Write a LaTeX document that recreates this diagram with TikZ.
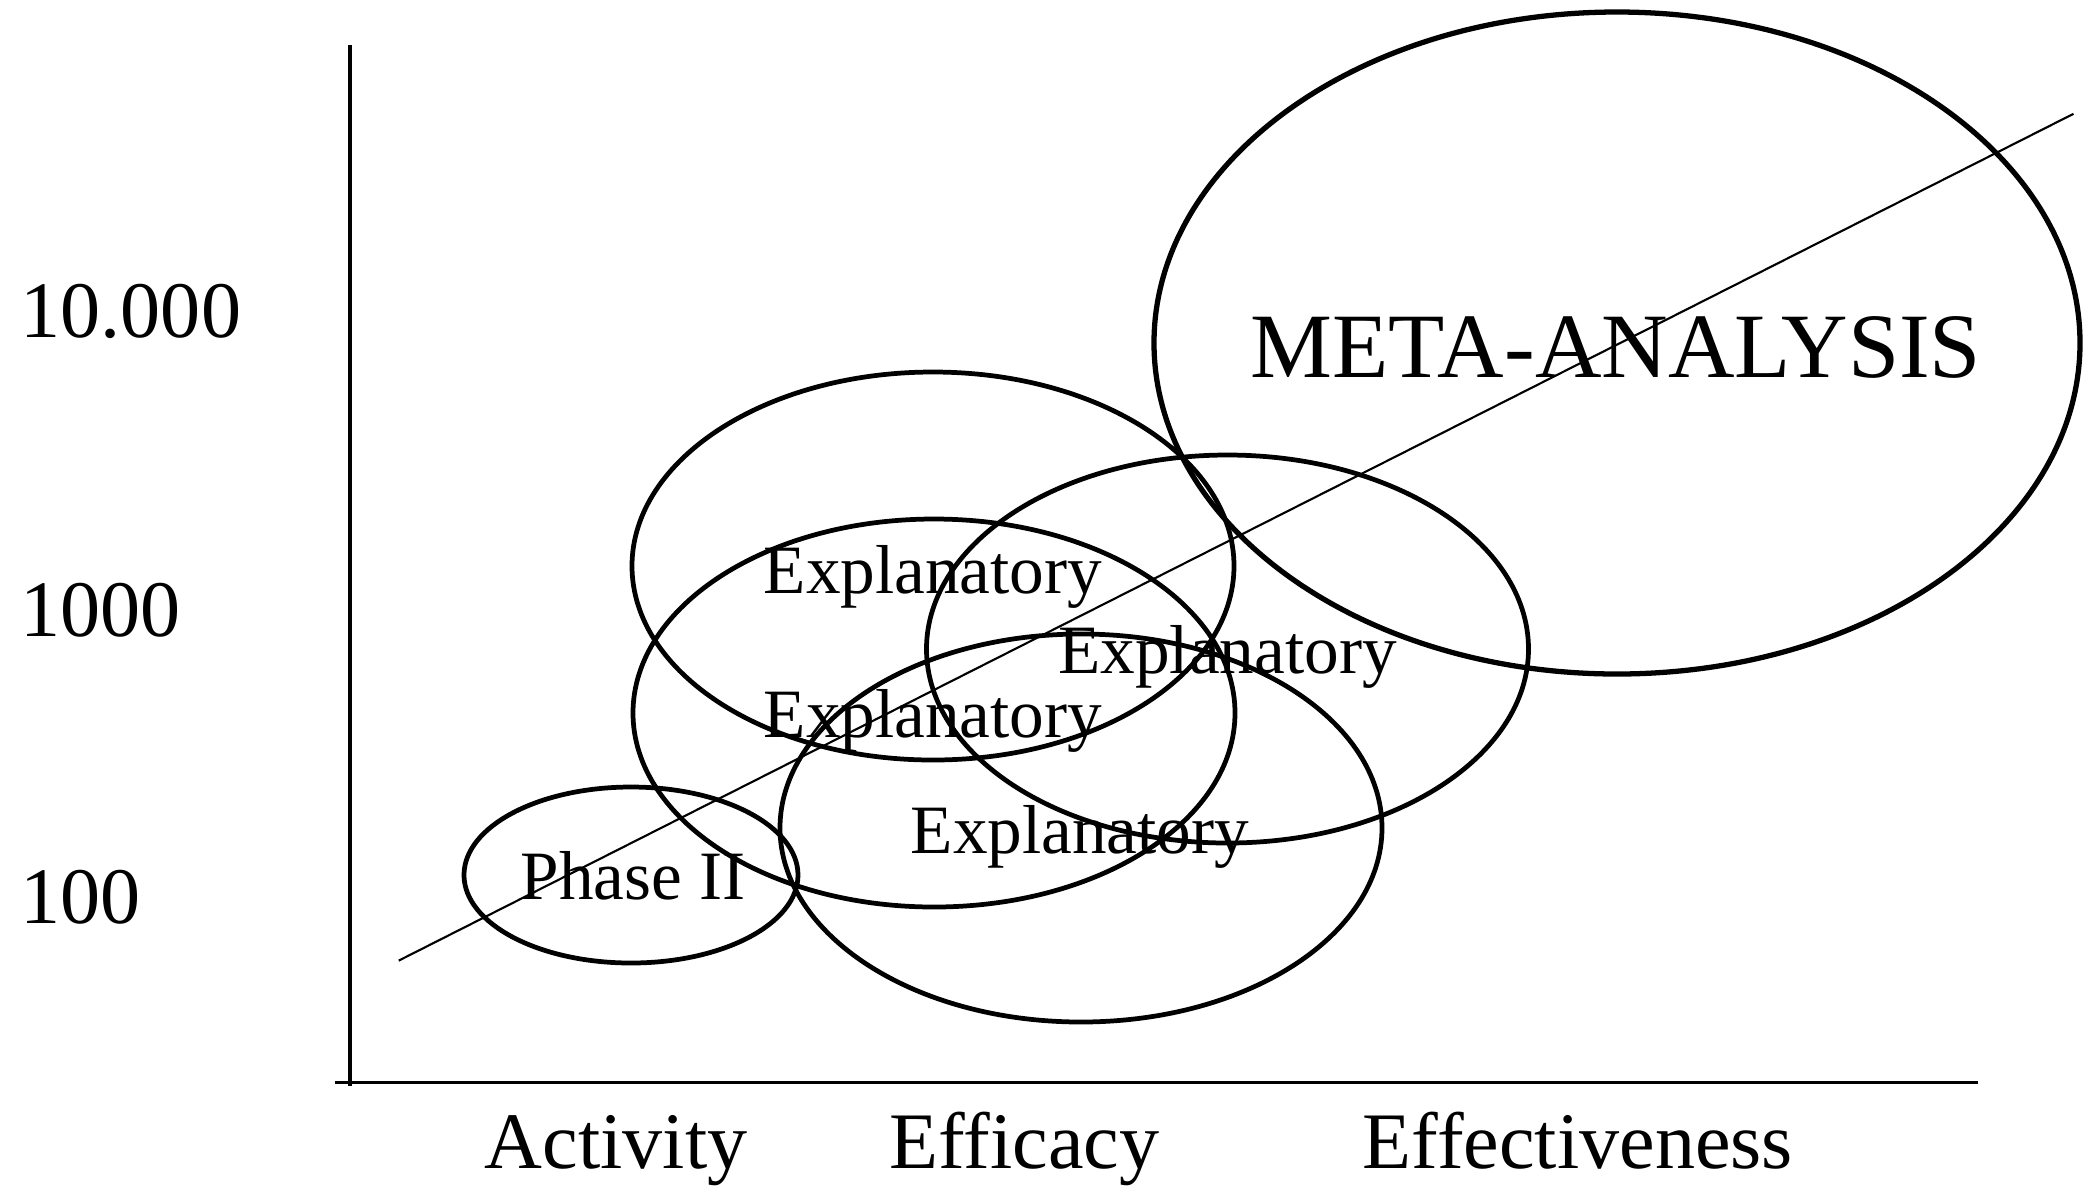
\documentclass[tikz,border=0pt]{standalone}
\usepackage{fontspec}
\setmainfont{Liberation Serif}
\usetikzlibrary{shapes.geometric}

\begin{document}
\begin{tikzpicture}[
  x=1cm, y=1cm,
  axis/.style={line width=1pt},
  trend/.style={line width=0.6pt},
  zoneline/.style={ellipse, draw, line width=1.35pt, inner sep=0pt},
  studyzone/.style={zoneline, minimum width=6.02cm, minimum height=3.88cm},
  zonelabel/.style={anchor=base, inner sep=0pt, font=\fontsize{19.7}{22}\selectfont},
  ticklabel/.style={anchor=base west, inner sep=0pt, font=\fontsize{22.8}{26}\selectfont},
  phaselabel/.style={anchor=base, inner sep=0pt, font=\fontsize{22.8}{26}\selectfont}
]
\useasboundingbox (0,0) rectangle (20.89,-11.91);

% axes
\coordinate (ytop) at (3.50,-0.45);
\coordinate (ybot) at (3.50,-10.86);
\coordinate (xl) at (3.35,-10.826);
\coordinate (xr) at (19.78,-10.826);
\draw[axis] (ytop) -- (ybot);
\draw[axis] (xl) -- (xr);

% sample-size labels
\node[ticklabel] (t10000) at (0.20,-3.37) {10.000};
\node[ticklabel] (t1000)  at (0.20,-6.366) {1000};
\node[ticklabel] (t100)   at (0.20,-9.23) {100};

% phase labels
\node[phaselabel] (activity)      at (6.16,-11.68) {Activity};
\node[phaselabel] (efficacy)      at (10.245,-11.68) {Efficacy};
\node[phaselabel] (effectiveness) at (15.78,-11.68) {Effectiveness};

% study ellipses
\node[zoneline, minimum width=3.34cm, minimum height=1.76cm] (phase2) at (6.31,-8.75) {};
\node[studyzone] (expA) at (9.33,-5.66) {};
\node[studyzone] (expB) at (9.34,-7.13) {};
\node[studyzone] (expC) at (10.81,-8.28) {};
\node[studyzone] (expD) at (12.275,-6.49) {};
\node[zoneline, line width=1.5pt, minimum width=9.26cm, minimum height=6.62cm] (meta) at (16.17,-3.43) {};

% trend line
\coordinate (trendlow) at (3.987,-9.606);
\coordinate (trendhigh) at (20.735,-1.138);
\draw[trend] (trendlow) -- (trendhigh);

% ellipse texts
\node[zonelabel] (lblphase2) at (6.33,-8.99) {Phase II};
\node[zonelabel] (lblA) at (9.33,-5.93) {Explanatory};
\node[zonelabel] (lblB) at (9.33,-7.375) {Explanatory};
\node[zonelabel] (lblD) at (12.275,-6.737) {Explanatory};
\node[zonelabel] (lblC) at (10.80,-8.536) {Explanatory};
\node[anchor=base, inner sep=0pt, font=\fontsize{26.2}{30}\selectfont] (lblmeta) at (16.16,-3.777) {META-ANALYSIS};
\end{tikzpicture}
\end{document}
